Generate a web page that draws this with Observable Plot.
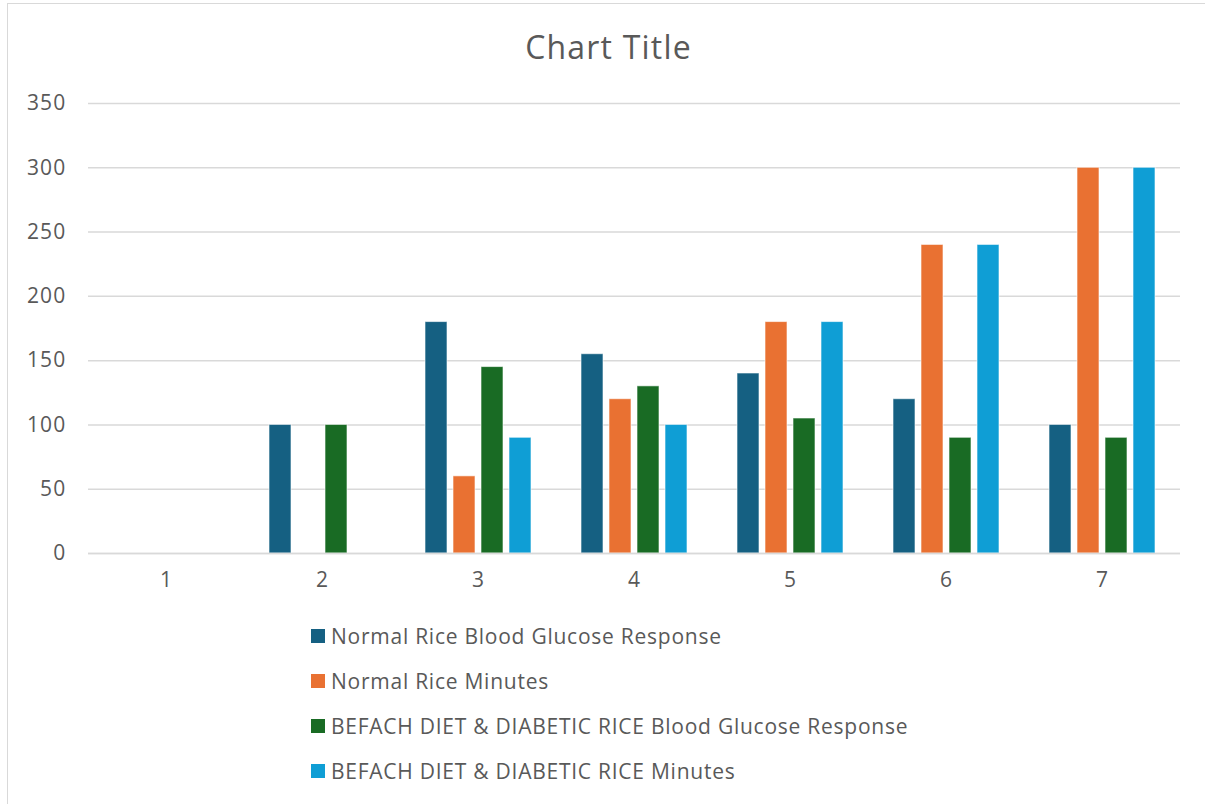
<!DOCTYPE html>
<html>
<head>
<meta charset="utf-8">
<script src="https://cdn.jsdelivr.net/npm/d3@7"></script>
<script src="https://cdn.jsdelivr.net/npm/@observablehq/plot@0.6"></script>
<style>
  html, body { margin: 0; padding: 0; background: #fff; }
  body { width: 1205px; height: 804px; overflow: hidden; position: relative; font-family: "Open Sans", "Noto Sans", sans-serif; color: #595959; }
  #frame { position: absolute; left: 7px; top: 3px; width: 1210px; height: 820px; border: 1.5px solid #d9d9d9; box-sizing: border-box; }
  #title { position: absolute; left: 7px; width: 1203px; top: 25px; line-height: 44px; text-align: center; font-size: 32px; letter-spacing: 1.2px; color: #595959; }
  #chart { position: absolute; left: 0; top: 60px; }
  #legend { position: absolute; left: 311px; top: 613.5px; }
  .item { display: flex; align-items: center; height: 45px; font-size: 21px; letter-spacing: 0.75px; color: #595959; white-space: nowrap; }
  .sw { width: 14px; height: 14px; margin-right: 6px; flex: none; }
  #chart svg text { letter-spacing: 1.2px; }
</style>
</head>
<body>
<div id="frame"></div>
<div id="title">Chart Title</div>
<div id="chart"></div>
<div id="legend"></div>
<script>
const categories = ["1", "2", "3", "4", "5", "6", "7"];
const seriesNames = [
  "Normal Rice Blood Glucose Response",
  "Normal Rice Minutes",
  "BEFACH DIET & DIABETIC RICE Blood Glucose Response",
  "BEFACH DIET & DIABETIC RICE Minutes"
];
const normalRiceGlucose = [0, 100, 180, 155, 140, 120, 100];
const normalRiceMinutes = [0, 0, 60, 120, 180, 240, 300];
const befachGlucose = [0, 100, 145, 130, 105, 90, 90];
const befachMinutes = [0, 0, 90, 100, 180, 240, 300];
const seriesColors = ["#156082", "#E97132", "#196B24", "#0F9ED5"];
const yTicks = [0, 50, 100, 150, 200, 250, 300, 350];

const seriesValues = [normalRiceGlucose, normalRiceMinutes, befachGlucose, befachMinutes];
const table = [];
categories.forEach((c, i) => {
  seriesNames.forEach((s, j) => {
    table.push({category: c, series: s, value: seriesValues[j][i]});
  });
});

const font = "'Open Sans', 'Noto Sans', sans-serif";
const chart = Plot.plot({
  width: 1205,
  height: 543,
  marginLeft: 85,
  marginRight: 23,
  marginTop: 43,
  marginBottom: 50,
  style: {fontFamily: font, fontSize: "21px", color: "#595959", background: "transparent"},
  fx: {domain: categories, padding: 0, label: null},
  x: {domain: seriesNames, paddingInner: 0.22, paddingOuter: 0.86, axis: null},
  y: {domain: [0, 350], label: null},
  color: {domain: seriesNames, range: seriesColors},
  marks: [
    Plot.gridY(yTicks, {stroke: "#d9d9d9", strokeOpacity: 1, strokeWidth: 1.5}),
    Plot.barY(table, {
      fx: "category", x: "series", y: "value", fill: "series",
      stroke: "white", strokeWidth: 1, strokeOpacity: 0.6
    }),
    Plot.ruleY([0], {stroke: "#d9d9d9", strokeWidth: 1.5}),
    Plot.axisY(yTicks, {tickSize: 0, tickPadding: 22, fontSize: 21, fill: "#595959", label: null}),
    Plot.axisFx({tickSize: 0, tickPadding: 19, fontSize: 21, fill: "#595959", label: null, anchor: "bottom"})
  ]
});
document.getElementById("chart").appendChild(chart);

const legend = document.getElementById("legend");
seriesNames.forEach((s, j) => {
  const row = document.createElement("div");
  row.className = "item";
  const sw = document.createElement("span");
  sw.className = "sw";
  sw.style.background = seriesColors[j];
  const t = document.createElement("span");
  t.textContent = s;
  row.appendChild(sw);
  row.appendChild(t);
  legend.appendChild(row);
});
</script>
</body>
</html>
